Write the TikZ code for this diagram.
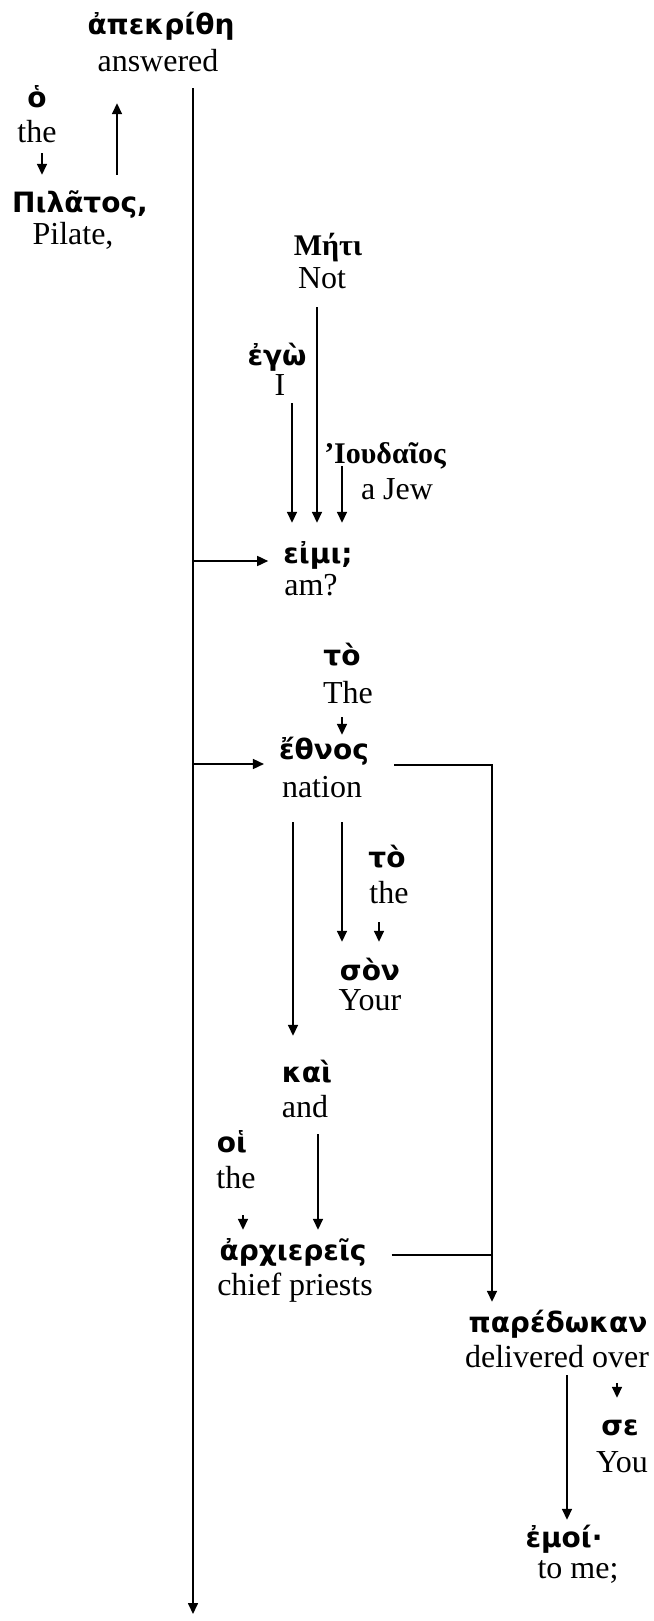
\documentclass[tikz,border=0pt]{standalone}
\usepackage{fontspec}
\setmainfont{Liberation Serif}
\newfontfamily\grk{DejaVu Sans}
\usetikzlibrary{arrows.meta,calc}

\begin{document}
\begin{tikzpicture}[x=1pt,y=-1pt,
  gk/.style={font=\grk\bfseries\fontsize{28}{32}\selectfont,inner sep=0pt,anchor=base,text height=24pt,text depth=0pt},
  gs/.style={font=\bfseries\fontsize{30}{34}\selectfont,inner sep=0pt,anchor=base,text height=24pt,text depth=0pt},
  en/.style={font=\fontsize{32}{36}\selectfont,inner sep=0pt,anchor=base,text depth=0pt},
  arr/.style={-{Triangle[length=11pt,width=10pt]},line width=1.6pt}]
\useasboundingbox (0,0) rectangle (653,1621);
% words
\node[gk] (apekrithe) at (161,35) {ἀπεκρίθη};
\node[en] (apekritheE) at (158,72) {answered};
\node[gk] (ho) at (37,108) {ὁ};
\node[en] (hoE) at (37,143) {the};
\node[gk] (pilatos) at (80,213) {Πιλᾶτος,};
\node[en] (pilatosE) at (73,244) {Pilate,};
\node[gs] (meti) at (328,255) {Μήτι};
\node[en] (metiE) at (322,288) {Not};
\node[gk] (ego) at (277,365) {ἐγὼ};
\node[en] (egoE) at (280,395) {I};
\node[gs] (ioudaios) at (385,463) {’Ιουδαῖος};
\node[en] (ioudaiosE) at (397,499) {a Jew};
\node[gk] (eimi) at (318,563) {εἰμι;};
\node[en] (eimiE) at (311,595) {am?};
\node[gk] (toA) at (342,665) {τὸ};
\node[en] (toAE) at (348,703) {The};
\node[gk] (ethnos) at (324,759) {ἔθνος};
\node[en] (ethnosE) at (322,797) {nation};
\node[gk] (toB) at (387,867) {τὸ};
\node[en] (toBE) at (389,903) {the};
\node[gk] (son) at (370,980) {σὸν};
\node[en] (sonE) at (370,1010) {Your};
\node[gk] (kai) at (307,1082) {καὶ};
\node[en] (kaiE) at (305,1117) {and};
\node[gk] (hoi) at (232,1152) {οἱ};
\node[en] (hoiE) at (236,1188) {the};
\node[gk] (archiereis) at (293,1260) {ἀρχιερεῖς};
\node[en] (archiereisE) at (295,1295) {chief priests};
\node[gk] (paredokan) at (558,1332) {παρέδωκαν};
\node[en] (paredokanE) at (557,1367) {delivered over};
\node[gk] (se) at (620,1435) {σε};
\node[en] (seE) at (622,1472) {You};
\node[gk] (emoi) at (564,1547) {ἐμοί·};
\node[en] (emoiE) at (578,1578) {to me;};
\coordinate (tail) at (193,1614);
\coordinate (bus) at ([xshift=-66pt]paredokan.north);
% links
\draw[arr,shorten <=10pt,shorten >=14pt] ($(hoE.south)+(5,0)$) -- ($(hoE.south |- pilatos.north)+(5,0)$);
\draw[arr,shorten <=14pt,shorten >=31pt] ($(pilatos.north)+(37,0)$) -- ($(pilatos.north |- apekritheE.south)+(37,0)$);
\draw[arr,shorten <=16pt] (apekritheE.south -| tail) -- (tail);
\draw[arr,shorten >=15pt] ($(tail |- eimi.base west)+(0,-2)$) -- ($(eimi.base west)+(0,-2)$);
\draw[arr,shorten <=19pt,shorten >=16pt] ($(metiE.south)+(-5,0)$) -- ($(metiE.south |- eimi.north)+(-5,0)$);
\draw[arr,shorten <=8pt,shorten >=16pt] ($(egoE.south)+(12,0)$) -- ($(egoE.south |- eimi.north)+(12,0)$);
\draw[arr,shorten <=3pt,shorten >=16pt] ($(ioudaios.south)+(-43,0)$) -- ($(ioudaios.south |- eimi.north)+(-43,0)$);
\draw[arr,shorten <=14pt] ($(toAE.south)+(-6,0)$) -- ($(toAE.south |- ethnos.north)+(-6,0)$);
\draw[arr,shorten >=15pt] ($(tail |- ethnos.base west)+(0,5)$) -- ($(ethnos.base west)+(0,5)$);
\draw[arr,shorten <=25pt,shorten >=22pt] ($(ethnosE.south)+(-29,0)$) -- ($(ethnosE.south |- kai.north)+(-29,0)$);
\draw[arr,shorten <=25pt,shorten >=14pt] ($(ethnosE.south)+(20,0)$) -- ($(ethnosE.south |- son.north)+(20,0)$);
\draw[arr,shorten <=19pt,shorten >=14pt] ($(toBE.south)+(-10,0)$) -- ($(toBE.south |- son.north)+(-10,0)$);
\draw[arr,shorten <=17pt,shorten >=6pt] ($(kaiE.south)+(13,0)$) -- ($(kaiE.south |- archiereis.north)+(13,0)$);
\draw[arr,shorten <=27pt,shorten >=6pt] ($(hoiE.south)+(7,0)$) -- ($(hoiE.south |- archiereis.north)+(7,0)$);
\draw[arr,shorten <=25pt,shorten >=6pt] ($(ethnos.base east)+(0,6)$) -| (bus);
\draw[line width=1.6pt,shorten <=25pt] ($(archiereis.base east)+(0,-5)$) -- ($(archiereis.base east -| bus)+(0,-5)$);
\draw[arr,shorten <=8pt,shorten >=3pt] ($(paredokanE.south)+(10,0)$) -- ($(paredokanE.south |- emoi.north)+(10,0)$);
\draw[arr,shorten <=16pt,shorten >=13pt] ($(paredokanE.south)+(60,0)$) -- ($(paredokanE.south |- se.north)+(60,0)$);
\end{tikzpicture}
\end{document}
